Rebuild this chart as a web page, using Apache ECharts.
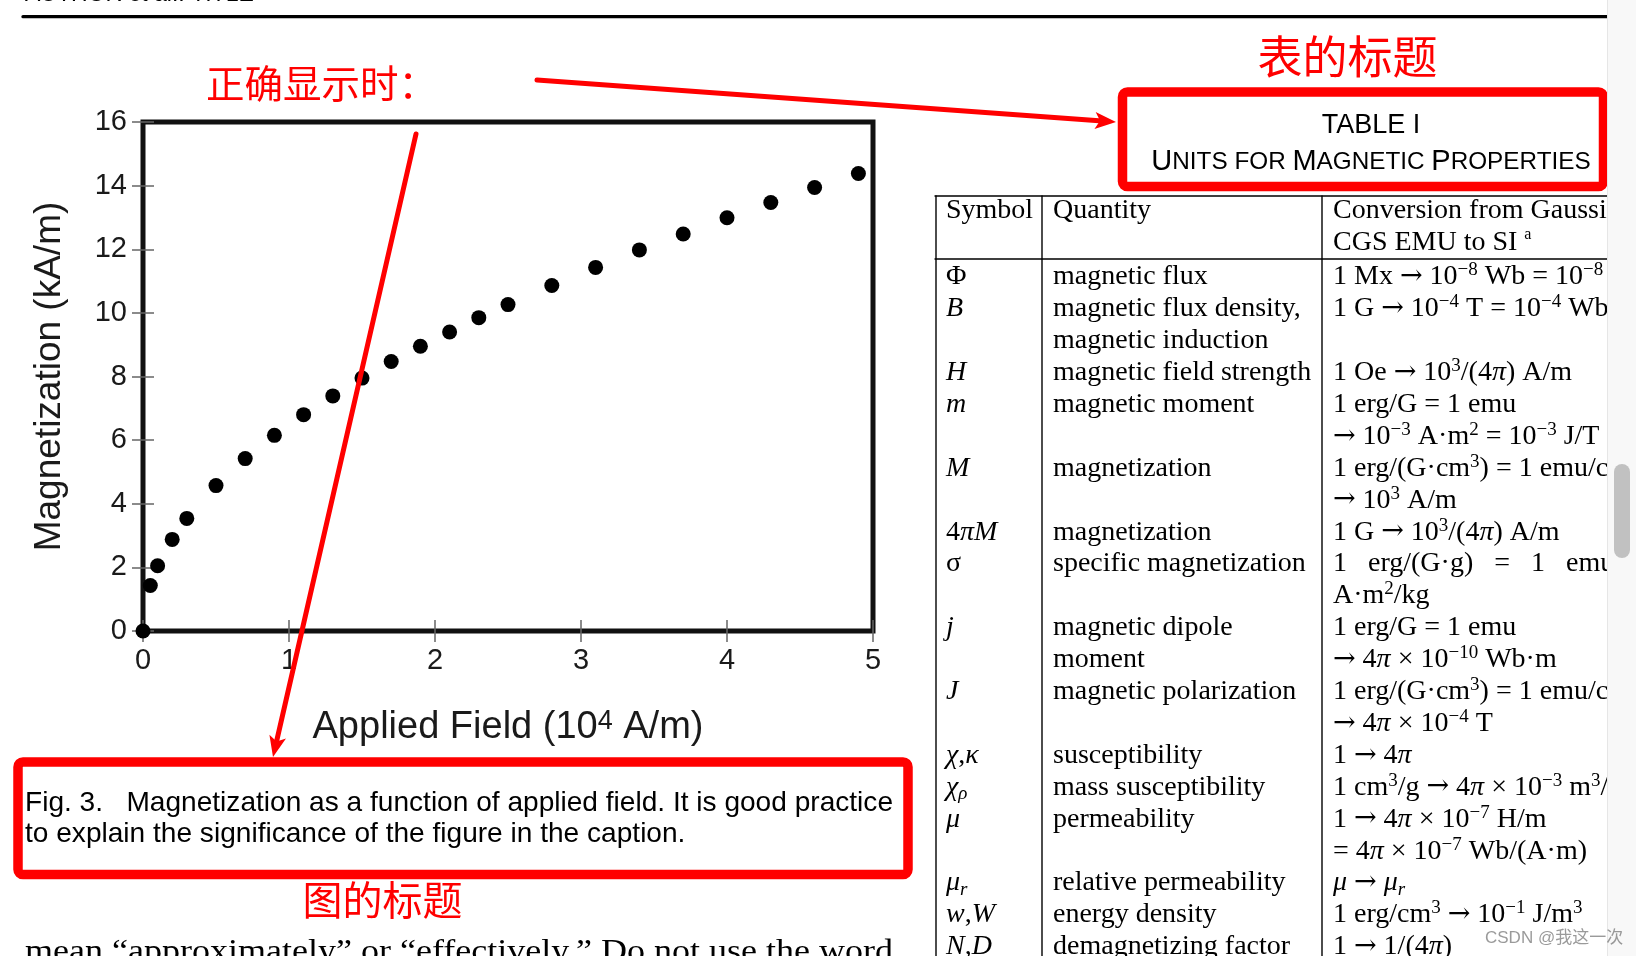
<!DOCTYPE html>
<html><head><meta charset="utf-8">
<script src="https://cdn.jsdelivr.net/npm/echarts@6/dist/echarts.min.js"></script>
<style>html,body{margin:0;padding:0;background:#fff;overflow:hidden}#c{width:1636px;height:956px}</style>
</head><body><div id="c"></div>
<script>
// ---------- data ----------
const fieldValues = [0, 0.05, 0.1, 0.2, 0.3, 0.5, 0.7, 0.9, 1.1, 1.3, 1.5, 1.7, 1.9, 2.1, 2.3, 2.5, 2.8, 3.1, 3.4, 3.7, 4.0, 4.3, 4.6, 4.9];
const magnetization = [0, 1.43, 2.05, 2.88, 3.54, 4.57, 5.42, 6.15, 6.8, 7.39, 7.95, 8.47, 8.95, 9.4, 9.85, 10.26, 10.86, 11.43, 11.98, 12.48, 12.99, 13.47, 13.94, 14.38];
const xAxisRange = [0, 5];
const yAxisRange = [0, 16];

const headerSymbol = 'Symbol';
const headerQuantity = 'Quantity';
const headerConversion = ['Conversion from Gaussian and', 'CGS EMU to SI {q|a}'];

const symbolLines = ['Φ', '{i|B}', '', '{i|H}', '{i|m}', '', '{i|M}', '', '4{i|πM}', 'σ', '', '{i|j}', '', '{i|J}', '',
  '{i|χ},{i|κ}', '{i|χ}{b|ρ}', '{i|μ}', '', '{i|μ}{b|r}', '{i|w},{i|W}', '{i|N},{i|D}'];
const quantityLines = ['magnetic flux', 'magnetic flux density,', 'magnetic induction', 'magnetic field strength',
  'magnetic moment', '', 'magnetization', '', 'magnetization', 'specific magnetization', '', 'magnetic dipole',
  'moment', 'magnetic polarization', '', 'susceptibility', 'mass susceptibility', 'permeability', '',
  'relative permeability', 'energy density', 'demagnetizing factor'];
const conversionLines = [
  '1 Mx → 10{p|−8} Wb = 10{p|−8} V·s',
  '1 G → 10{p|−4} T = 10{p|−4} Wb/m{p|2}',
  '',
  '1 Oe → 10{p|3}/(4{i|π}) A/m',
  '1 erg/G = 1 emu',
  '→ 10{p|−3} A·m{p|2} = 10{p|−3} J/T',
  '1 erg/(G·cm{p|3}) = 1 emu/cm{p|3}',
  '→ 10{p|3} A/m',
  '1 G → 10{p|3}/(4{i|π}) A/m',
  '1   erg/(G·g)   =   1   emu/g   →   1',
  'A·m{p|2}/kg',
  '1 erg/G = 1 emu',
  '→ 4{i|π} × 10{p|−10} Wb·m',
  '1 erg/(G·cm{p|3}) = 1 emu/cm{p|3}',
  '→ 4{i|π} × 10{p|−4} T',
  '1 → 4{i|π}',
  '1 cm{p|3}/g → 4{i|π} × 10{p|−3} m{p|3}/kg',
  '1 → 4{i|π} × 10{p|−7} H/m',
  '= 4{i|π} × 10{p|−7} Wb/(A·m)',
  '{i|μ} → {i|μ}{b|r}',
  '1 erg/cm{p|3} → 10{p|−1} J/m{p|3}',
  '1 → 1/(4{i|π})'
];

const runningHead = 'AUTHOR et al.: TITLE';
const captionLines = ['Fig. 3.   Magnetization as a function of applied field. It is good practice',
  'to explain the significance of the figure in the caption.'];
const bodyText = 'mean “approximately” or “effectively.” Do not use the word';
const noteFigure = '正确显示时：';
const noteTableTitle = '表的标题';
const noteFigTitle = '图的标题';
const watermark = 'CSDN @我这一次';

// ---------- styles / helpers ----------
const SANS = '"Liberation Sans", Arial, Helvetica, sans-serif';
const SERIF = '"Liberation Serif", "Times New Roman", serif';
const CJK = '"Noto Sans CJK SC", sans-serif';
const RED = '#ff0000';
const mctx = document.createElement('canvas').getContext('2d');
function measure(str, size, fam) { mctx.font = size + 'px ' + fam; return mctx.measureText(str).width; }

const TF = 28;
const tableRich = {
  i: { fontStyle: 'italic', fontFamily: SERIF, fontSize: TF, fill: '#000', lineHeight: 32 },
  r: { fontFamily: '"DejaVu Serif", serif', fontSize: 27, fill: '#000', lineHeight: 32 },
  p: { fontFamily: SERIF, fontSize: 19, fill: '#000', lineHeight: 20, verticalAlign: 'top' },
  q: { fontFamily: SERIF, fontSize: 16, fill: '#000', lineHeight: 18, verticalAlign: 'top' },
  b: { fontStyle: 'italic', fontFamily: SERIF, fontSize: 19, fill: '#000', lineHeight: 22, verticalAlign: 'bottom' }
};
function tText(str, x, y) {
  return { type: 'text', x: x, y: y, z: 50, silent: true,
    style: { text: str.replace(/→/g, '{r|→}'), fontFamily: SERIF, fontSize: TF, fill: '#000', lineHeight: 32,
      align: 'left', verticalAlign: 'middle', rich: tableRich } };
}
function line(x1, y1, x2, y2, color, w, z) {
  return { type: 'line', z: z || 40, silent: true, shape: { x1, y1, x2, y2 },
    style: { stroke: color, lineWidth: w, lineCap: 'round' } };
}
function arrow(x1, y1, x2, y2) {
  const dx = x2 - x1, dy = y2 - y1, len = Math.hypot(dx, dy);
  const ux = dx / len, uy = dy / len, px = -uy, py = ux;
  const L = 21, W = 8.5;
  const bx = x2 - ux * L, by = y2 - uy * L;
  return [
    line(x1, y1, bx + ux * 4, by + uy * 4, RED, 5, 120),
    { type: 'polygon', z: 121, silent: true,
      shape: { points: [[x2, y2], [bx + px * W, by + py * W], [bx + ux * 5, by + uy * 5], [bx - px * W, by - py * W]] },
      style: { fill: RED } }
  ];
}

// ---------- graphic layout ----------
const g = [];
// running head + rule
g.push({ type: 'text', x: 25, y: -5, z: 50, style: { text: runningHead, fontFamily: SANS, fontSize: 23, fill: '#000', verticalAlign: 'middle' } });
g.push(line(23, 16.7, 1607, 16.7, '#000', 3.3, 40));

// red notes
g.push({ type: 'text', x: 206, y: 83, z: 110, style: { text: noteFigure, fontFamily: CJK, fontSize: 38.5, fill: RED, verticalAlign: 'middle' } });
g.push({ type: 'text', x: 1347.5, y: 57, z: 110, style: { text: noteTableTitle, fontFamily: CJK, fontSize: 45, fill: RED, align: 'center', verticalAlign: 'middle' } });
g.push({ type: 'text', x: 382.5, y: 900, z: 110, style: { text: noteFigTitle, fontFamily: CJK, fontSize: 40, fill: RED, align: 'center', verticalAlign: 'middle' } });
g.push(...arrow(537, 80, 1116, 122));
g.push(...arrow(416, 134, 273, 757));
g.push({ type: 'rect', z: 115, shape: { x: 1122.5, y: 92, width: 481, height: 94.5, r: 5 }, style: { fill: 'none', stroke: RED, lineWidth: 9.5 } });
g.push({ type: 'rect', z: 115, shape: { x: 18, y: 762, width: 890, height: 112.5, r: 5 }, style: { fill: 'none', stroke: RED, lineWidth: 9.5 } });

// table caption
g.push({ type: 'text', x: 1371, y: 126, z: 50, style: { text: 'TABLE I', fontFamily: SANS, fontSize: 27, fill: '#000', align: 'center', verticalAlign: 'middle' } });
g.push({ type: 'text', x: 1371, y: 162, z: 50, style: {
  text: '{B|U}{s|NITS FOR }{B|M}{s|AGNETIC }{B|P}{s|ROPERTIES}', align: 'center', verticalAlign: 'middle',
  rich: { B: { fontFamily: SANS, fontSize: 29, fill: '#000', lineHeight: 30 }, s: { fontFamily: SANS, fontSize: 24.3, fill: '#000', lineHeight: 30 } } } });

// figure caption
const capScale = 868 / measure(captionLines[0], 28, SANS);
captionLines.forEach((t, i) => g.push({ type: 'text', x: 25, y: 803.5 + i * 30.5, z: 50, scaleX: capScale,
  style: { text: t, fontFamily: SANS, fontSize: 28, fill: '#000', verticalAlign: 'middle' } }));
// body text
const bodyScale = 868 / measure(bodyText, 31, SERIF);
g.push({ type: 'text', x: 25, y: 953, z: 50, scaleX: bodyScale, style: { text: bodyText, fontFamily: SERIF, fontSize: 31, fill: '#000', verticalAlign: 'middle' } });

// table grid
const colX = [936, 1042, 1322];
const textX = [946, 1053, 1333];
g.push(line(935, 196, 1607, 196, '#000', 1.4));
g.push(line(935, 259, 1607, 259, '#000', 1.4));
colX.forEach(x => g.push(line(x, 196, x, 960, '#000', 1.4)));
// header
g.push(tText(headerSymbol, textX[0], 210.5));
g.push(tText(headerQuantity, textX[1], 210.5));
headerConversion.forEach((t, i) => g.push(tText(t, textX[2], 210.5 + i * 32)));
// body
const rowStep = 31.9;
symbolLines.forEach((t, i) => {
  const y = 277 + i * rowStep;
  if (t) g.push(tText(t, textX[0], y));
  if (quantityLines[i]) g.push(tText(quantityLines[i], textX[1], y));
  if (conversionLines[i]) g.push(tText(conversionLines[i], textX[2], y));
});

// scrollbar
g.push({ type: 'rect', z: 200, shape: { x: 1607, y: 0, width: 29, height: 956 }, style: { fill: '#f8f8f8' } });
g.push(line(1607.5, 0, 1607.5, 956, '#e6e6e6', 1, 201));
g.push({ type: 'rect', z: 202, shape: { x: 1614, y: 464, width: 16, height: 94, r: 8 }, style: { fill: '#c1c1c1' } });
// watermark
g.push({ type: 'text', x: 1485, y: 938, z: 210, style: { text: watermark, fontFamily: '"Liberation Sans", "Noto Sans CJK SC", sans-serif', fontSize: 17, fill: 'rgba(120,120,120,0.75)', verticalAlign: 'middle' } });

// ---------- chart ----------
const tickStyle = { inside: true, length: 11, lineStyle: { color: '#666', width: 1.5 } };
const labelStyle = { fontFamily: SANS, fontSize: 29, color: '#1a1a1a' };
const chart = echarts.init(document.getElementById('c'), null, { renderer: 'canvas' });
chart.setOption({
  animation: false,
  backgroundColor: '#ffffff',
  grid: { left: 143, right: 763, top: 122, bottom: 325, show: true, borderColor: '#111', borderWidth: 5, backgroundColor: 'transparent' },
  xAxis: [
    { type: 'value', min: xAxisRange[0], max: xAxisRange[1], interval: 1, position: 'bottom',
      axisLine: { show: false }, axisTick: tickStyle, splitLine: { show: false },
      axisLabel: Object.assign({ margin: 15 }, labelStyle),
      name: '{a|Applied Field (10}{s|4}{a| A/m)}', nameLocation: 'middle', nameGap: 77,
      nameTextStyle: { rich: {
        a: { fontFamily: SANS, fontSize: 38, color: '#1a1a1a', lineHeight: 40 },
        s: { fontFamily: SANS, fontSize: 27, color: '#1a1a1a', lineHeight: 26, verticalAlign: 'top' } } } },
    { type: 'value', min: xAxisRange[0], max: xAxisRange[1], interval: 1, position: 'top',
      axisLine: { show: false }, axisTick: tickStyle, splitLine: { show: false }, axisLabel: { show: false } }
  ],
  yAxis: [
    { type: 'value', min: yAxisRange[0], max: yAxisRange[1], interval: 2, position: 'left',
      axisLine: { show: false }, axisTick: tickStyle, splitLine: { show: false },
      axisLabel: Object.assign({ margin: 16, padding: [0, 0, 13, 0] }, labelStyle),
      name: 'Magnetization (kA/m)', nameLocation: 'middle', nameGap: 75,
      nameTextStyle: { fontFamily: SANS, fontSize: 37, color: '#1a1a1a' } },
    { type: 'value', min: yAxisRange[0], max: yAxisRange[1], interval: 2, position: 'right',
      axisLine: { show: false }, axisTick: tickStyle, splitLine: { show: false }, axisLabel: { show: false } }
  ],
  series: [{
    type: 'scatter', xAxisIndex: 0, yAxisIndex: 0, clip: false, z: 3,
    symbol: 'circle', symbolSize: 15, itemStyle: { color: '#000', opacity: 1 },
    data: fieldValues.map((x, i) => [x, magnetization[i]])
  }],
  graphic: { elements: g }
});
</script>
</body></html>
